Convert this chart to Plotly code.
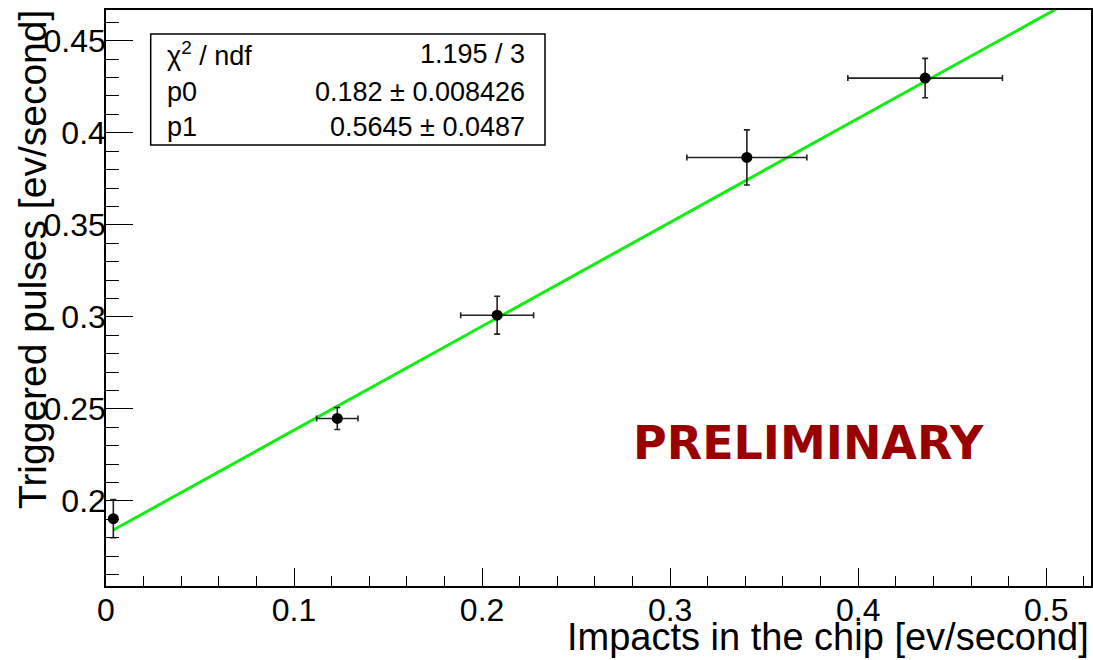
import plotly.graph_objects as go

# Data
impacts = [0.0039, 0.123, 0.208, 0.3408, 0.4356]
impacts_err = [0.0, 0.011, 0.0194, 0.0319, 0.0411]
pulses = [0.1904, 0.2448, 0.3009, 0.3866, 0.4297]
pulses_err = [0.0104, 0.006, 0.0103, 0.015, 0.0107]

# Fit parameters (from the stats box)
p0 = 0.182
p1 = 0.5645
fit_x = [0.0039, 0.53]
fit_y = [p0 + p1 * v for v in fit_x]

x_tickvals = [0, 0.1, 0.2, 0.3, 0.4, 0.5]
x_ticktext = ["0", "0.1", "0.2", "0.3", "0.4", "0.5"]
y_tickvals = [0.2, 0.25, 0.3, 0.35, 0.4, 0.45]
y_ticktext = ["0.2", "0.25", "0.3", "0.35", "0.4", "0.45"]

stat_labels = ["χ<sup>2</sup> / ndf", "p0", "p1"]
stat_values = ["1.195 / 3", "0.182 ± 0.008426", "0.5645 ± 0.0487"]

FONT = "Liberation Sans, Arial, Helvetica, sans-serif"

W, H = 1093, 660
L, R, T, B = 106, 2, 10, 74
PW, PH = W - L - R, H - T - B


def px(xp):
    return (xp - L) / PW


def py(yp):
    return (H - B - yp) / PH


fig = go.Figure()

fig.add_trace(go.Scatter(
    x=fit_x, y=fit_y, mode="lines",
    line=dict(color="#11ee11", width=3),
    hoverinfo="skip", showlegend=False,
))

fig.add_trace(go.Scatter(
    x=impacts, y=pulses, mode="markers",
    marker=dict(color="black", size=11),
    error_x=dict(type="data", array=impacts_err, color="#222222", thickness=1.6, width=3),
    error_y=dict(type="data", array=pulses_err, color="#222222", thickness=1.6, width=3),
    showlegend=False,
))

# Stats box
fig.add_shape(type="rect", xref="paper", yref="paper",
              x0=px(150.7), x1=px(545), y0=py(145), y1=py(34),
              line=dict(color="black", width=1.5), fillcolor="white", layer="above")

rows_y = [54, 92, 127]
for lab, val, yy in zip(stat_labels, stat_values, rows_y):
    fig.add_annotation(text=lab, xref="paper", yref="paper", x=px(165), y=py(yy),
                       xanchor="left", yanchor="middle", showarrow=False,
                       font=dict(family=FONT, size=27, color="black"))
    fig.add_annotation(text=val, xref="paper", yref="paper", x=px(527), y=py(yy),
                       xanchor="right", yanchor="middle", showarrow=False,
                       font=dict(family=FONT, size=27, color="black"))

# Preliminary label
fig.add_annotation(text="<b>PRELIMINARY</b>", xref="paper", yref="paper",
                   x=px(808), y=py(443), xanchor="center", yanchor="middle",
                   showarrow=False,
                   font=dict(family="DejaVu Sans, sans-serif", size=46, color="#990000"))

# Axis titles
fig.add_annotation(text="Triggered pulses [ev/second]", xref="paper", yref="paper",
                   x=px(32), y=py(260), xanchor="center", yanchor="middle",
                   textangle=-90, showarrow=False,
                   font=dict(family=FONT, size=39, color="black"))
fig.add_annotation(text="Impacts in the chip [ev/second]", xref="paper", yref="paper",
                   x=px(1091), y=py(637), xanchor="right", yanchor="middle",
                   showarrow=False,
                   font=dict(family=FONT, size=38, color="black"))

fig.update_layout(
    width=W, height=H,
    margin=dict(l=L, r=R, t=T, b=B),
    paper_bgcolor="white", plot_bgcolor="white",
    showlegend=False,
    xaxis=dict(
        range=[0, 0.5238], showgrid=False, zeroline=False, automargin=False,
        showline=True, linecolor="black", linewidth=1.5, mirror=True,
        ticks="inside", ticklen=18, tickwidth=1.3, tickcolor="black",
        tickmode="array", tickvals=x_tickvals, ticktext=x_ticktext,
        tickfont=dict(family=FONT, size=32, color="black"),
        ticklabelstandoff=-5,
        minor=dict(ticks="inside", ticklen=10, tickwidth=1.3, tickcolor="black",
                   tick0=0, dtick=0.02, showgrid=False),
    ),
    yaxis=dict(
        range=[0.1538, 0.4667], showgrid=False, zeroline=False, automargin=False,
        showline=True, linecolor="black", linewidth=1.5, mirror=True,
        ticks="inside", ticklen=27, tickwidth=1.3, tickcolor="black",
        tickmode="array", tickvals=y_tickvals, ticktext=y_ticktext,
        tickfont=dict(family=FONT, size=32, color="black"),
        ticklabelstandoff=-8,
        minor=dict(ticks="inside", ticklen=13, tickwidth=1.3, tickcolor="black",
                   tick0=0.2, dtick=0.01, showgrid=False),
    ),
)

fig.write_html("out.html", config={"displayModeBar": False})

# Remove the default page margin so the figure sits at the window origin
with open("out.html", "r", encoding="utf-8") as f:
    html = f.read()
html = html.replace("<head>", "<head><style>html,body{margin:0;padding:0;overflow:hidden;}</style>", 1)
with open("out.html", "w", encoding="utf-8") as f:
    f.write(html)
